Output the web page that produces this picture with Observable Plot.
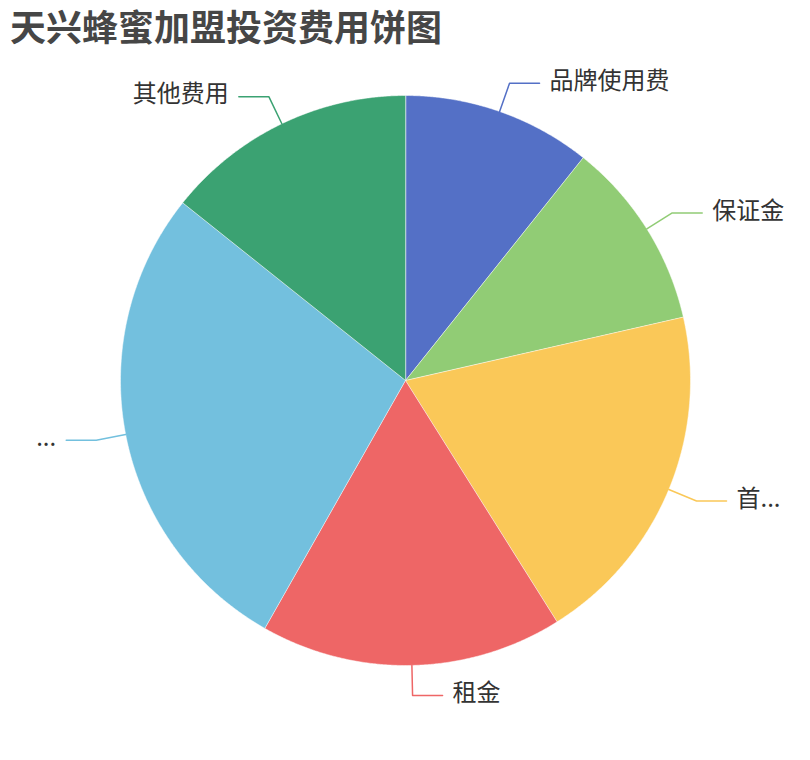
<!DOCTYPE html>
<html><head><meta charset="utf-8">
<script src="https://cdn.jsdelivr.net/npm/d3@7"></script>
<script src="https://cdn.jsdelivr.net/npm/@observablehq/plot@0.6"></script>
<style>
body{margin:0;background:#fff;font-family:"Noto Sans CJK SC",sans-serif;}
#title{height:50px;line-height:50px;padding-left:10px;font-size:36px;font-weight:bold;color:#464646;white-space:nowrap;}
</style></head><body>
<div id="title">天兴蜂蜜加盟投资费用饼图</div>
<div id="chart"></div>
<script>
const labels = ["品牌使用费","保证金","首...","租金","...","其他费用"];
const values = [3, 3, 5.5, 4.8, 7.7, 4];
const colors = ["#5470c6","#91cc75","#fac858","#ee6666","#73c0de","#3ba272"];

const R = 285, L1 = 30, L2 = 30;
const arcs = d3.pie().sort(null).value(d => d)(values);
const pt = (a, r) => [r * Math.sin(a), -r * Math.cos(a)];

const slices = [];
arcs.forEach((a, i) => {
  slices.push({name: labels[i], x: 0, y: 0});
  const n = Math.max(2, Math.ceil((a.endAngle - a.startAngle) / 0.005));
  for (let k = 0; k <= n; k++) {
    const t = a.startAngle + (a.endAngle - a.startAngle) * k / n;
    const [x, y] = pt(t, R);
    slices.push({name: labels[i], x, y});
  }
});

const guide = [];
const texts = [];
arcs.forEach((a, i) => {
  const m = (a.startAngle + a.endAngle) / 2;
  const [x1, y1] = pt(m, R);
  const [x2, y2] = pt(m, R + L1);
  const right = Math.sin(m) >= 0;
  const x3 = x2 + (right ? L2 : -L2);
  guide.push({name: labels[i], x: x1, y: y1});
  guide.push({name: labels[i], x: x2, y: y2});
  guide.push({name: labels[i], x: x3, y: y2});
  texts.push({name: labels[i], x: x3, y: y2, anchor: right ? "start" : "end"});
});

const color = {domain: labels, range: colors};

const plot = Plot.plot({
  width: 810,
  height: 710,
  margin: 0,
  x: {domain: [-405, 405], range: [0, 810], axis: null},
  y: {domain: [-330, 380], range: [0, 710], axis: null},
  color,
  style: {fontFamily: '"Noto Sans CJK SC", sans-serif', background: "#fff"},
  marks: [
    Plot.line(slices, {x: "x", y: "y", z: "name", fill: "name", stroke: "#fff", strokeWidth: 0.5, curve: "linear-closed"}),
    Plot.line(guide, {x: "x", y: "y", z: "name", stroke: "name", strokeWidth: 1.5}),
    Plot.text(texts.filter(d => d.anchor === "start"), {x: "x", y: "y", text: "name", textAnchor: "start", dx: 10, dy: -2, fontSize: 24, fill: "#333"}),
    Plot.text(texts.filter(d => d.anchor === "end"), {x: "x", y: "y", text: "name", textAnchor: "end", dx: -10, dy: -2, fontSize: 24, fill: "#333"})
  ]
});
document.getElementById("chart").appendChild(plot);
</script>
</body></html>
